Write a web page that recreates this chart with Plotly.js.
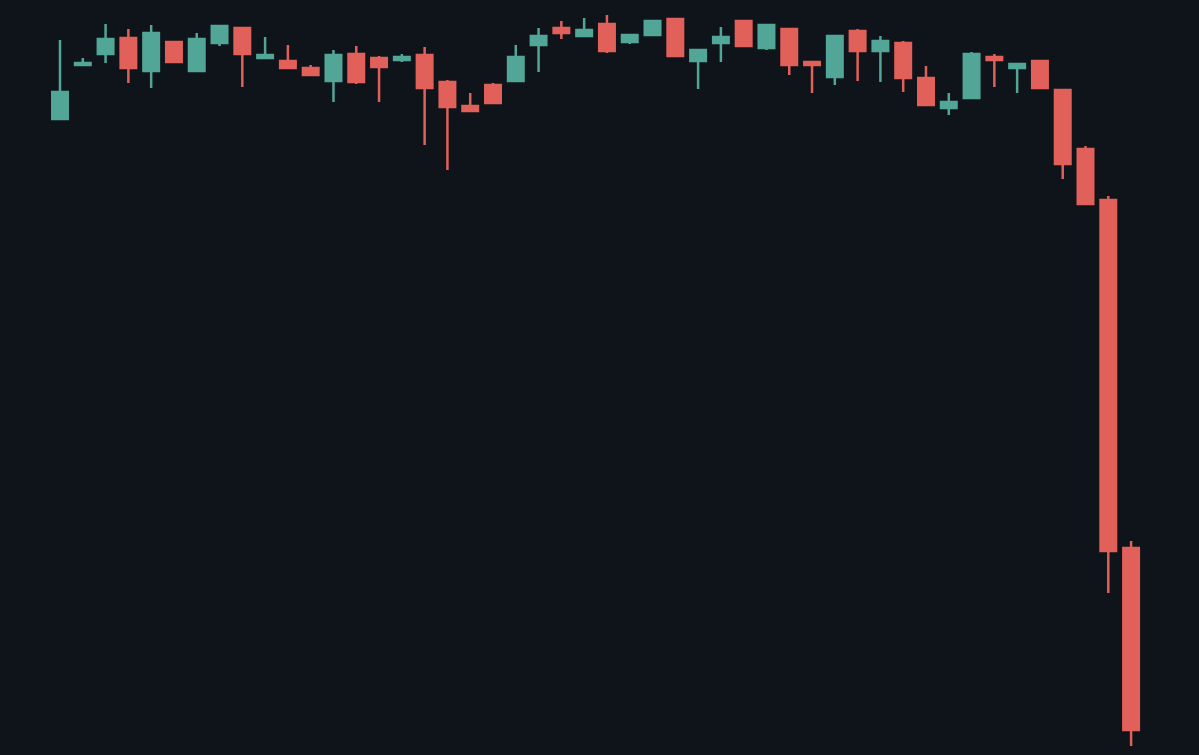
<!DOCTYPE html>
<html>
<head>
<meta charset="utf-8">
<script src="https://cdn.plot.ly/plotly-3.0.1.min.js"></script>
<style>
  html, body { margin: 0; padding: 0; background: #0f131a; }
  #chart { width: 1199px; height: 755px; }
</style>
</head>
<body>
<div id="chart"></div>
<script>
const bars = [0,1,2,3,4,5,6,7,8,9,10,11,12,13,14,15,16,17,18,19,20,21,22,23,24,25,26,27,28,29,30,31,32,33,34,35,36,37,38,39,40,41,42,43,44,45,46,47];
const openVals  = [88.1,93.5,94.6,96.2,92.9,95.8,92.9,95.7,97.2,94.2,93.9,93.2,91.9,94.6,94.2,94.0,94.5,91.8,89.4,91.5,91.9,95.5,97.2,96.4,97.6,95.8,96.5,98.1,93.9,95.7,97.9,95.2,97.1,93.8,92.3,96.9,94.9,95.7,92.2,89.2,90.2,94.3,93.2,93.9,91.0,85.1,80.0,45.2];
const highVals  = [96.0,94.2,97.6,97.1,97.5,95.8,96.7,97.5,97.3,96.3,95.5,93.5,95.0,95.4,94.4,94.6,95.3,92.0,90.7,91.7,95.5,97.2,97.9,98.2,98.5,96.5,97.9,98.1,95.0,97.3,97.9,97.5,97.1,93.9,96.4,97.1,96.4,95.9,93.4,90.7,94.8,94.6,93.6,93.9,91.0,85.4,80.4,45.9];
const lowVals   = [88.1,93.4,93.7,91.7,91.2,93.8,92.9,95.4,91.3,94.2,93.2,92.5,89.8,91.6,89.8,93.8,85.5,83.0,88.9,89.7,91.9,92.8,96.1,96.4,94.7,95.6,96.5,94.4,91.1,93.8,95.4,95.0,92.5,90.7,91.5,91.9,91.8,90.8,89.5,88.5,90.2,91.3,90.7,91.2,82.1,79.6,40.7,25.4];
const closeVals = [90.8,93.7,96.1,93.2,96.7,93.8,96.1,97.4,94.6,94.5,93.2,92.5,94.5,91.8,93.3,94.3,91.2,89.3,88.9,89.7,94.3,96.4,96.7,97.0,94.9,96.5,97.9,94.4,95.0,96.3,95.4,97.5,93.5,93.5,96.4,94.9,95.9,92.2,89.5,89.8,94.6,94.0,93.6,91.2,83.6,79.6,44.9,27.0];

const upColor = '#52a697';
const downColor = '#e1615a';

const trace = {
  type: 'candlestick',
  x: bars,
  open: openVals,
  high: highVals,
  low: lowVals,
  close: closeVals,
  increasing: { line: { color: upColor, width: 2.5 }, fillcolor: upColor },
  decreasing: { line: { color: downColor, width: 2.5 }, fillcolor: downColor },
  whiskerwidth: 0,
  hoverinfo: 'none',
  showlegend: false
};

const layout = {
  width: 1199,
  height: 755,
  margin: { l: 0, r: 0, t: 0, b: 0, pad: 0 },
  paper_bgcolor: '#0f131a',
  plot_bgcolor: '#0f131a',
  showlegend: false,
  boxgap: 0.32,
  boxgroupgap: 0,
  xaxis: {
    range: [-2.633, 49.98],
    visible: false,
    showgrid: false,
    zeroline: false,
    rangeslider: { visible: false }
  },
  yaxis: {
    range: [24.5, 100],
    visible: false,
    showgrid: false,
    zeroline: false
  }
};

Plotly.newPlot('chart', [trace], layout, { displayModeBar: false, staticPlot: true });
</script>
</body>
</html>
